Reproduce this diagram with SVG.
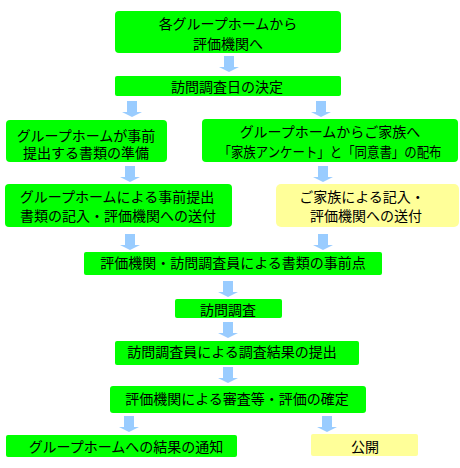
<svg xmlns="http://www.w3.org/2000/svg" width="460" height="468" viewBox="0 0 460 468">
<style>
.g{fill:#00ff00}
.y{fill:#ffff99}
text{font-family:"Noto Sans CJK JP","Noto Sans",sans-serif;font-size:14px;fill:#000;text-anchor:middle}
.a{fill:#99ccff}
</style>
<defs>
<path id="arr" d="M-5,0 H5 V11 H10 L0,16 L-10,11 H-5 Z"/>
</defs>
<rect width="460" height="468" fill="#fff"/>
<g id="connectors" class="a">
<use href="#arr" x="229" y="56"/>
<use href="#arr" x="132" y="101"/>
<use href="#arr" x="321" y="101"/>
<use href="#arr" x="130" y="166"/>
<use href="#arr" x="323" y="166"/>
<use href="#arr" x="130" y="234"/>
<use href="#arr" x="323" y="234"/>
<use href="#arr" x="228" y="281"/>
<use href="#arr" x="228" y="322"/>
<use href="#arr" x="228" y="367"/>
<use href="#arr" x="129" y="416"/>
<use href="#arr" x="327" y="416"/>
</g>
<g id="n1"><rect class="g" x="115" y="11" width="226" height="42" rx="4"/><text x="228" y="28.5">各グループホームから</text><text x="228" y="49">評価機関へ</text></g>
<g id="n2"><rect class="g" x="115" y="76" width="226" height="20" rx="2"/><text x="227" y="92">訪問調査日の決定</text></g>
<g id="n3"><rect class="g" x="6" y="120" width="161" height="42" rx="4"/><text x="86" y="140.5">グループホームが事前</text><text x="86" y="157.5">提出する書類の準備</text></g>
<g id="n4"><rect class="g" x="202" y="119" width="256" height="43" rx="4"/><text x="330" y="137">グループホームからご家族へ</text><text x="330" y="157" textLength="223" lengthAdjust="spacingAndGlyphs">「家族アンケート」と「同意書」の配布</text></g>
<g id="n5"><rect class="g" x="5" y="184" width="227" height="43" rx="4"/><text x="117" y="201.5">グループホームによる事前提出</text><text x="118" y="221">書類の記入・評価機関への送付</text></g>
<g id="n6"><rect class="y" x="276" y="184" width="183" height="43" rx="5"/><text x="362" y="201.5">ご家族による記入・</text><text x="366" y="221">評価機関への送付</text></g>
<g id="n7"><rect class="g" x="84" y="252" width="298" height="23" rx="2"/><text x="233" y="268">評価機関・訪問調査員による書類の事前点</text></g>
<g id="n8"><rect class="g" x="175" y="299" width="107" height="19" rx="2"/><text x="228" y="315">訪問調査</text></g>
<g id="n9"><rect class="g" x="115" y="341" width="244" height="24" rx="2"/><text x="232" y="357">訪問調査員による調査結果の提出</text></g>
<g id="n10"><rect class="g" x="110" y="386" width="256" height="27" rx="3"/><text x="237" y="404">評価機関による審査等・評価の確定</text></g>
<g id="n11"><rect class="g" x="6" y="435" width="231" height="22" rx="2"/><text x="126" y="452">グループホームへの結果の通知</text></g>
<g id="n12"><rect class="y" x="311" y="434" width="107" height="22" rx="2"/><text x="365" y="452">公開</text></g>
</svg>
